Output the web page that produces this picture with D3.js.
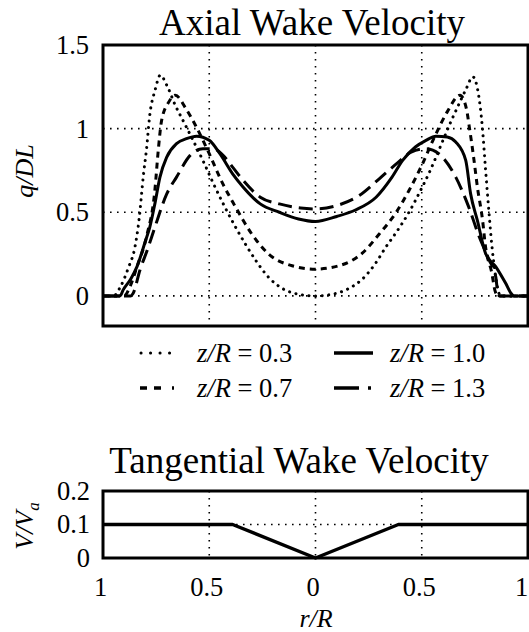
<!DOCTYPE html>
<html>
<head>
<meta charset="utf-8">
<script src="https://cdn.jsdelivr.net/npm/d3@7"></script>
<style>
  body { margin: 0; background: #fff; }
  text { font-family: "Liberation Serif", "Times New Roman", serif; fill: #000; }
</style>
</head>
<body>
<div id="chart"></div>
<script>
// data
var r03 = [-1, -0.95, -0.92, -0.88, -0.85, -0.83, -0.81, -0.795, -0.78, -0.755, -0.73, -0.70, -0.66, -0.62, -0.58, -0.53, -0.48, -0.43, -0.38, -0.33, -0.28, -0.22, -0.15, -0.08, 0, 0.08, 0.15, 0.22, 0.28, 0.33, 0.38, 0.44, 0.49, 0.54, 0.59, 0.64, 0.68, 0.71, 0.74, 0.765, 0.785, 0.80, 0.815, 0.83, 0.845, 0.86, 0.87, 0.92, 1];
var q03 = [0, 0, 0.05, 0.17, 0.29, 0.46, 0.72, 0.88, 1.08, 1.23, 1.32, 1.26, 1.14, 1.04, 0.94, 0.81, 0.67, 0.54, 0.42, 0.31, 0.21, 0.11, 0.04, 0.01, 0, 0.01, 0.04, 0.1, 0.19, 0.29, 0.38, 0.5, 0.62, 0.75, 0.9, 1.05, 1.16, 1.24, 1.31, 1.22, 1.01, 0.76, 0.52, 0.3, 0.14, 0.03, 0, 0, 0];

var r07 = [-1, -0.9, -0.873, -0.84, -0.795, -0.756, -0.74, -0.724, -0.69, -0.66, -0.61, -0.565, -0.5, -0.44, -0.38, -0.3, -0.22, -0.11, 0, 0.11, 0.22, 0.3, 0.38, 0.44, 0.5, 0.56, 0.62, 0.68, 0.71, 0.725, 0.745, 0.762, 0.786, 0.80, 0.83, 0.845, 0.86, 1];
var q07 = [0, 0, 0.055, 0.175, 0.355, 0.63, 0.87, 1.05, 1.16, 1.2, 1.12, 1.02, 0.85, 0.68, 0.54, 0.37, 0.25, 0.18, 0.16, 0.18, 0.255, 0.37, 0.5, 0.63, 0.78, 0.95, 1.1, 1.2, 1.12, 1.0, 0.82, 0.65, 0.455, 0.295, 0.135, 0.03, 0, 0];

var r10 = [-1, -0.92, -0.905, -0.87, -0.84, -0.8, -0.78, -0.756, -0.732, -0.70, -0.654, -0.607, -0.56, -0.5, -0.45, -0.39, -0.34, -0.26, -0.17, -0.08, 0, 0.1, 0.19, 0.285, 0.36, 0.41, 0.47, 0.52, 0.567, 0.62, 0.66, 0.707, 0.73, 0.762, 0.80, 0.848, 0.895, 0.92, 0.935, 1];
var q10 = [0, 0, 0.036, 0.1, 0.175, 0.33, 0.41, 0.55, 0.71, 0.83, 0.91, 0.94, 0.955, 0.93, 0.85, 0.73, 0.65, 0.55, 0.5, 0.46, 0.445, 0.475, 0.515, 0.59, 0.71, 0.81, 0.89, 0.93, 0.955, 0.95, 0.92, 0.81, 0.61, 0.45, 0.255, 0.175, 0.075, 0.016, 0, 0];

var r13 = [-1, -0.87, -0.858, -0.826, -0.79, -0.756, -0.70, -0.654, -0.59, -0.53, -0.48, -0.435, -0.39, -0.34, -0.26, -0.17, -0.07, 0, 0.113, 0.206, 0.3, 0.39, 0.45, 0.52, 0.58, 0.66, 0.72, 0.77, 0.817, 0.848, 0.856, 0.865, 1];
var q13 = [0, 0, 0.016, 0.155, 0.28, 0.41, 0.61, 0.71, 0.84, 0.88, 0.88, 0.84, 0.77, 0.69, 0.59, 0.55, 0.525, 0.52, 0.545, 0.6, 0.7, 0.8, 0.86, 0.88, 0.85, 0.71, 0.535, 0.355, 0.215, 0.115, 0.036, 0, 0];

var rTan = [-1, -0.39, 0, 0.39, 1];
var vTan = [0.1, 0.1, 0, 0.1, 0.1];

var seriesNames = ["z/R = 0.3", "z/R = 0.7", "z/R = 1.0", "z/R = 1.3"];
var axialTicks = [0, 0.5, 1, 1.5];
var tanTicks = [0, 0.1, 0.2];
var rTicks = [-1, -0.5, 0, 0.5, 1];

var svgWidth = 529;
var svgHeight = 632;

var svg = d3.select("#chart")
  .append("svg")
  .attr("width", svgWidth)
  .attr("height", svgHeight);

var xScale = d3.scaleLinear().domain([-1, 1]).range([103, 528]);
var yAxial = d3.scaleLinear().domain([-0.18, 1.5]).range([326, 45]);
var yTan = d3.scaleLinear().domain([0, 0.2]).range([558, 491]);

// line styles per series
var styles = [
  {dash: "0.1,6.5", cap: "round", width: 3},
  {dash: "6,5", cap: "butt", width: 3},
  {dash: null, cap: "butt", width: 3},
  {dash: "14,7", cap: "butt", width: 3}
];
var legendDash = ["0.1,9.4", "7,7,7,11,2", null, "25,9,3"];

var series = [
  {r: r03, q: q03},
  {r: r07, q: q07},
  {r: r10, q: q10},
  {r: r13, q: q13}
];

function gridDots(g, xs, ys, yScale) {
  xs.forEach(function(v) {
    g.append("line")
      .attr("x1", xScale(v)).attr("x2", xScale(v))
      .attr("y1", yScale.range()[1]).attr("y2", yScale.range()[0])
      .attr("stroke", "#000").attr("stroke-width", 1.6)
      .attr("stroke-dasharray", "1.6,5.4");
  });
  ys.forEach(function(v) {
    g.append("line")
      .attr("x1", xScale.range()[0]).attr("x2", xScale.range()[1])
      .attr("y1", yScale(v)).attr("y2", yScale(v))
      .attr("stroke", "#000").attr("stroke-width", 1.6)
      .attr("stroke-dasharray", "1.6,5.4");
  });
}

// ---------- top panel ----------
var topPanel = svg.append("g");

svg.append("clipPath").attr("id", "clipTop")
  .append("rect")
  .attr("x", 103).attr("y", 45)
  .attr("width", 425).attr("height", 281);

gridDots(topPanel, [-0.5, 0, 0.5], [0, 0.5, 1], yAxial);

var line = d3.line().curve(d3.curveMonotoneX);

series.forEach(function(s, i) {
  var pts = s.r.map(function(d, j) { return [xScale(d), yAxial(s.q[j])]; });
  topPanel.append("path")
    .attr("clip-path", "url(#clipTop)")
    .attr("d", line(pts))
    .attr("fill", "none")
    .attr("stroke", "#000")
    .attr("stroke-width", styles[i].width)
    .attr("stroke-linecap", styles[i].cap)
    .attr("stroke-linejoin", "round")
    .attr("stroke-dasharray", styles[i].dash);
});

topPanel.append("rect")
  .attr("x", 103).attr("y", 45)
  .attr("width", 425).attr("height", 281)
  .attr("fill", "none").attr("stroke", "#000").attr("stroke-width", 3);

var leftAxial = d3.axisLeft(yAxial).tickValues(axialTicks).tickSize(0).tickPadding(14)
  .tickFormat(d3.format("~g"));
topPanel.append("g")
  .attr("transform", "translate(103,0)")
  .call(leftAxial)
  .call(function(g) { g.select(".domain").remove(); })
  .selectAll("text")
  .style("font-size", "26.5px")
  .style("font-family", "Liberation Serif, Times New Roman, serif");

topPanel.append("text")
  .attr("x", 312).attr("y", 35)
  .attr("text-anchor", "middle")
  .style("font-size", "37px")
  .text("Axial Wake Velocity");

topPanel.append("text")
  .attr("transform", "translate(33,171) rotate(-90)")
  .attr("text-anchor", "middle")
  .style("font-size", "26px")
  .style("font-style", "italic")
  .text("q/DL");

// ---------- legend ----------
var legendPos = [
  {sx: 141, ex: 172, tx: 197, y: 353},
  {sx: 140, ex: 178, tx: 197, y: 388},
  {sx: 334, ex: 373, tx: 390, y: 353},
  {sx: 334, ex: 373, tx: 390, y: 388}
];
var legend = svg.append("g");
seriesNames.forEach(function(name, i) {
  var p = legendPos[i];
  legend.append("line")
    .attr("x1", p.sx).attr("x2", p.ex)
    .attr("y1", p.y).attr("y2", p.y)
    .attr("stroke", "#000")
    .attr("stroke-width", i == 0 ? 3 : 3.5)
    .attr("stroke-linecap", styles[i].cap)
    .attr("stroke-dasharray", legendDash[i]);
  var t = legend.append("text")
    .attr("x", p.tx).attr("y", p.y + 9)
    .style("font-size", "26.5px");
  t.append("tspan").style("font-style", "italic").text(name.slice(0, 3));
  t.append("tspan").text(name.slice(3));
});

// ---------- bottom panel ----------
var botPanel = svg.append("g");

gridDots(botPanel, [-0.5, 0, 0.5], [0.1], yTan);

botPanel.append("path")
  .attr("d", d3.line()(rTan.map(function(d, j) { return [xScale(d), yTan(vTan[j])]; })))
  .attr("fill", "none")
  .attr("stroke", "#000")
  .attr("stroke-width", 3.5)
  .attr("stroke-linejoin", "round");

botPanel.append("rect")
  .attr("x", 103).attr("y", 491)
  .attr("width", 425).attr("height", 67)
  .attr("fill", "none").attr("stroke", "#000").attr("stroke-width", 3);

var leftTan = d3.axisLeft(yTan).tickValues(tanTicks).tickSize(0).tickPadding(13)
  .tickFormat(d3.format("~g"));
botPanel.append("g")
  .attr("transform", "translate(103,0)")
  .call(leftTan)
  .call(function(g) { g.select(".domain").remove(); })
  .selectAll("text")
  .style("font-size", "26.5px")
  .style("font-family", "Liberation Serif, Times New Roman, serif");

var bottomAxis = d3.axisBottom(xScale).tickValues(rTicks).tickSize(0).tickPadding(19)
  .tickFormat(function(d) { return d3.format("~g")(Math.abs(d)); });
botPanel.append("g")
  .attr("transform", "translate(-3,558)")
  .call(bottomAxis)
  .call(function(g) { g.select(".domain").remove(); })
  .selectAll("text")
  .style("font-size", "26.5px")
  .style("font-family", "Liberation Serif, Times New Roman, serif")
  .attr("dx", function(d) { return d === 1 ? -4 : 0; });

botPanel.append("text")
  .attr("x", 299).attr("y", 473)
  .attr("text-anchor", "middle")
  .style("font-size", "37px")
  .text("Tangential Wake Velocity");

var vl = botPanel.append("text")
  .attr("transform", "translate(33,526) rotate(-90)")
  .attr("text-anchor", "middle")
  .style("font-size", "26px")
  .style("font-style", "italic");
vl.append("tspan").text("V/V");
vl.append("tspan").attr("dy", 6).style("font-size", "17px").text("a");

botPanel.append("text")
  .attr("x", 316).attr("y", 627)
  .attr("text-anchor", "middle")
  .style("font-size", "26px")
  .style("font-style", "italic")
  .text("r/R");
</script>
</body>
</html>
